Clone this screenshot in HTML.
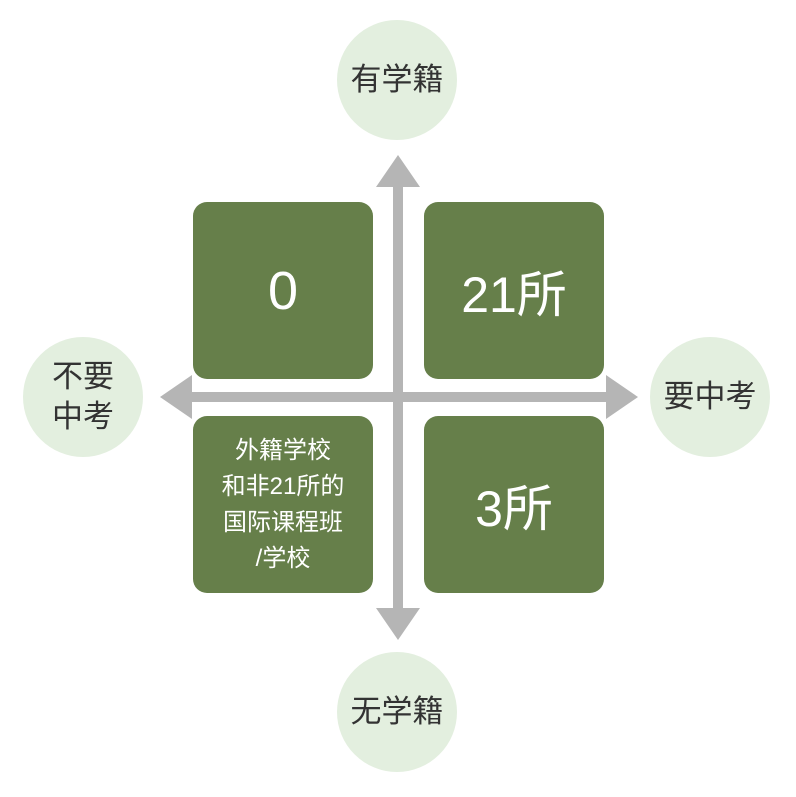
<!DOCTYPE html>
<html><head><meta charset="utf-8"><style>
body{margin:0;width:796px;height:797px;background:#fff;position:relative;overflow:hidden;font-family:"Liberation Sans","Noto Sans CJK SC",sans-serif}
.c{position:absolute;width:120px;height:120px;border-radius:50%;background:#e3efdf;display:flex;align-items:center;justify-content:center;text-align:center;font-size:31px;color:#333;line-height:40px}
.b{position:absolute;width:180px;height:177px;border-radius:14px;background:#667f4a;color:#fff;display:flex;align-items:center;justify-content:center;text-align:center}
</style></head><body>
<div class="c" style="left:337px;top:20px">有学籍</div>
<div class="c" style="left:337px;top:652px">无学籍</div>
<div class="c" style="left:23px;top:337px">不要<br>中考</div>
<div class="c" style="left:650px;top:337px">要中考</div>
<svg width="796" height="797" style="position:absolute;left:0;top:0">
<g fill="#b5b5b5">
<rect x="393" y="180" width="10" height="430"/>
<rect x="185" y="392" width="430" height="10"/>
<polygon points="398,155 420,187 376,187"/>
<polygon points="398,640 420,608 376,608"/>
<polygon points="160,397 192,375 192,419"/>
<polygon points="638,397 606,375 606,419"/>
</g></svg>
<div class="b" style="left:193px;top:202px;font-size:54px">0</div>
<div class="b" style="left:424px;top:202px;font-size:50px">21所</div>
<div class="b" style="left:193px;top:416px;font-size:24px;line-height:36px">外籍学校<br>和非21所的<br>国际课程班<br>/学校</div>
<div class="b" style="left:424px;top:416px;font-size:50px">3所</div>
</body></html>
